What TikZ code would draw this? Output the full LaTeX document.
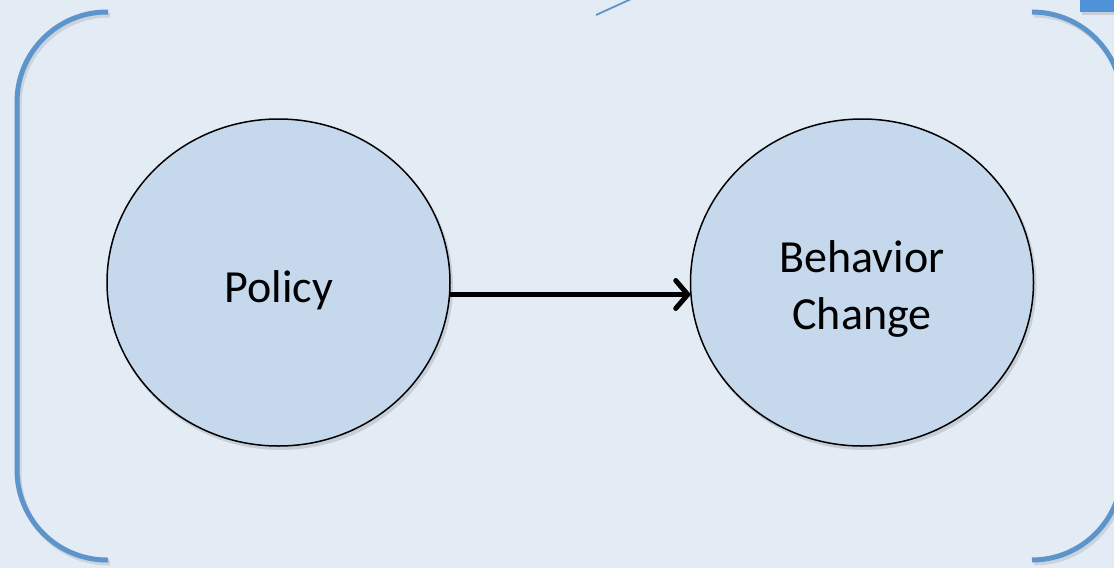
\documentclass[tikz,border=0pt]{standalone}
\usepackage{fontspec}
\setmainfont{Carlito}
\usetikzlibrary{shapes.geometric,arrows.meta}
\definecolor{bgcol}{HTML}{E3EBF5}
\definecolor{circfill}{HTML}{C5D8EC}
\definecolor{brk}{HTML}{5E94CC}
\definecolor{topbox}{HTML}{4F92DA}
\tikzset{
  bubble/.style={ellipse, draw=black, line width=1.5pt, fill=circfill,
    minimum width=343pt, minimum height=327pt, inner sep=0pt, align=center,
    font=\fontsize{46}{57}\selectfont},
  bubbleshadow/.style={ellipse, fill=black, opacity=0.12,
    minimum width=345pt, minimum height=329pt, inner sep=0pt},
  bubbletext/.style={align=center, inner sep=0pt, font=\fontsize{46}{57}\selectfont},
  bracket/.style={draw=brk, line width=5pt, rounded corners=90pt},
  brshadow/.style={draw=black, opacity=0.10, line width=5pt, rounded corners=90pt},
  flow/.style={line width=5pt, -{Straight Barb[length=12pt,width=28pt,line cap=round,line join=round]}}
}
\begin{document}
\begin{tikzpicture}[x=1pt,y=-1pt]
\useasboundingbox (0,0) rectangle (1114,568);
\clip (0,0) rectangle (1114,568);
\fill[bgcol] (0,0) rectangle (1114,568);
% brackets shadows
\draw[brshadow] (110,15) -- (19,15) -- (19,563) -- (110,563);
\draw[brshadow] (1034,15) -- (1124,15) -- (1124,563) -- (1034,563);
% brackets
\draw[bracket] (108,12) -- (17,12) -- (17,560) -- (108,560);
\draw[bracket] (1032,12) -- (1122,12) -- (1122,560) -- (1032,560);
% top decorations
\fill[black,opacity=0.12] (1082,0) rectangle (1114,15);
\fill[topbox] (1080,0) rectangle (1114,12);
\coordinate (ls) at (596,15);
\coordinate (le) at (640,-5);
\draw[brk, line width=1.8pt] (ls) -- (le);
% circles
\node[bubbleshadow] (ps) at (280.5,285.5) {};
\node[bubbleshadow] (bs) at (864,285.5) {};
\node[bubble] (policy) at (278.5,282.5) {};
\node[bubble] (behav) at (862,282.5) {};
\node[bubbletext] (policyt) at (279,290) {Policy};
\node[bubbletext] (behavt) at (862,289) {Behavior\\Change};
\draw[flow] (policy.-4) -- (behav.184);
\end{tikzpicture}
\end{document}
